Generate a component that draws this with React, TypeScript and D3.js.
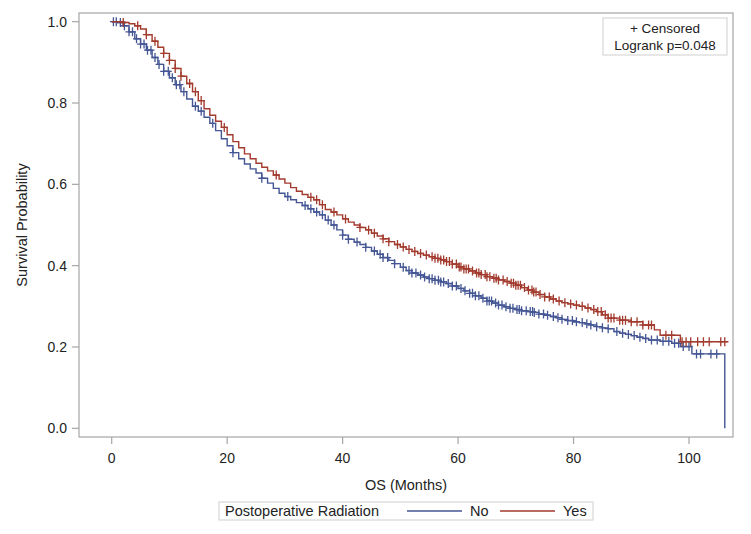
import React from "react";
import * as d3 from "d3";

const noTimes = [0, 1, 2, 3, 4, 5, 6, 7, 8, 9, 10, 11, 12, 13, 14, 15, 16, 17, 18, 19, 20, 21, 22, 23, 24, 25, 26, 27, 28, 29, 30, 31, 32, 33, 34, 35, 36, 37, 38, 39, 40, 41, 42, 43, 44, 45, 46, 47, 48, 49, 50, 51, 52, 53, 54, 55, 56, 57, 58, 59, 60, 61, 62, 63, 64, 65, 66, 67, 68, 69, 70, 71, 72, 73, 74, 75, 76, 77, 78, 79, 80, 81, 82, 83, 84, 85, 86, 87, 88, 89, 90, 91, 92, 93, 95, 97, 98.5, 100.5, 106.2];
const noSurv = [1.0, 0.998, 0.99, 0.975, 0.958, 0.945, 0.93, 0.912, 0.895, 0.878, 0.862, 0.845, 0.828, 0.81, 0.792, 0.78, 0.765, 0.75, 0.732, 0.712, 0.695, 0.678, 0.663, 0.65, 0.638, 0.628, 0.615, 0.603, 0.59, 0.578, 0.57, 0.562, 0.555, 0.548, 0.54, 0.532, 0.525, 0.512, 0.5, 0.488, 0.475, 0.465, 0.458, 0.452, 0.445, 0.436, 0.428, 0.42, 0.413, 0.405, 0.396, 0.388, 0.382, 0.377, 0.372, 0.368, 0.364, 0.36, 0.356, 0.35, 0.344, 0.338, 0.332, 0.326, 0.32, 0.313, 0.308, 0.303, 0.299, 0.295, 0.292, 0.289, 0.287, 0.285, 0.281, 0.278, 0.275, 0.272, 0.268, 0.265, 0.262, 0.26, 0.257, 0.254, 0.25, 0.247, 0.245, 0.238, 0.234, 0.231, 0.228, 0.224, 0.221, 0.217, 0.214, 0.209, 0.201, 0.183, 0.0];
const noEnd = 106.2;
const noCensored = [0.3, 0.8, 1.5, 2.2, 3.0, 3.6, 4.3, 5.0, 5.6, 6.2, 6.8, 7.5, 8.2, 9.0, 9.8, 10.5, 11.2, 11.8, 12.5, 14.5, 15.5, 17.5, 21.0, 26.0, 30.5, 33.5, 34.5, 35.5, 36.5, 37.5, 38.5, 40.0, 41.0, 42.5, 44.0, 45.5, 46.5, 47.0, 47.8, 49.0, 50.5, 51.5, 52.0, 52.7, 53.5, 54.2, 55.0, 55.5, 56.0, 56.6, 57.0, 57.5, 58.3, 59.0, 59.7, 60.5, 61.2, 62.0, 62.5, 63.0, 63.6, 64.3, 65.0, 65.4, 65.8, 66.5, 67.0, 67.6, 68.3, 69.0, 69.5, 70.2, 70.6, 71.0, 71.8, 72.5, 72.9, 73.2, 74.0, 74.8, 75.5, 76.5, 77.3, 78.0, 79.0, 79.8, 80.5, 81.5, 82.3, 83.0, 84.0, 85.0, 86.0, 87.5, 88.5, 89.5, 90.5, 91.5, 92.5, 93.5, 94.5, 95.5, 96.5, 97.5, 98.2, 99.0, 100.0, 101.3, 102.0, 103.8, 104.8];

const yesTimes = [0, 2, 3, 4, 5, 6, 7, 8, 9, 10, 11, 12, 13, 14, 15, 16, 17, 18, 19, 20, 21, 22, 23, 24, 25, 26, 27, 28, 29, 30, 31, 32, 33, 34, 35, 36, 37, 38, 39, 40, 41, 42, 43, 44, 45, 46, 47, 48, 49, 50, 51, 52, 53, 54, 55, 56, 57, 58, 59, 60, 61, 62, 63, 64, 65, 66, 67, 68, 69, 70, 71, 72, 73, 74, 75, 76, 77, 78, 79, 80, 81, 82, 83, 84, 85, 86, 88, 90, 92, 94, 95, 98.5];
const yesSurv = [1.0, 0.998, 0.995, 0.99, 0.982, 0.968, 0.952, 0.937, 0.922, 0.905, 0.885, 0.866, 0.848, 0.828, 0.806, 0.786, 0.77, 0.755, 0.74, 0.722, 0.705, 0.69, 0.675, 0.663, 0.652, 0.642, 0.633, 0.623, 0.613, 0.603, 0.592, 0.583, 0.575, 0.568, 0.562, 0.55, 0.538, 0.532, 0.525, 0.515, 0.507, 0.5, 0.494, 0.488, 0.48, 0.473, 0.466, 0.459, 0.452, 0.446, 0.44, 0.435, 0.43, 0.426, 0.422, 0.418, 0.414, 0.41, 0.404, 0.397, 0.392, 0.387, 0.382, 0.378, 0.373, 0.369, 0.365, 0.361, 0.357, 0.352, 0.346, 0.34, 0.335, 0.329, 0.323, 0.318, 0.313, 0.309, 0.306, 0.303, 0.3, 0.296, 0.292, 0.287, 0.279, 0.271, 0.266, 0.262, 0.254, 0.242, 0.229, 0.213];
const yesEnd = 106.8;
const yesCensored = [2.0, 4.5, 6.0, 7.5, 9.0, 10.0, 11.0, 12.0, 13.5, 14.5, 15.5, 19.5, 28.5, 34.5, 35.5, 36.5, 38.5, 40.5, 43.0, 44.5, 45.5, 47.0, 48.0, 49.5, 50.5, 51.5, 52.5, 53.5, 54.5, 55.5, 56.0, 56.5, 57.0, 57.5, 58.0, 58.5, 59.0, 59.7, 60.2, 60.5, 61.0, 61.4, 61.8, 62.5, 63.2, 63.6, 64.0, 64.7, 65.0, 65.5, 66.2, 66.6, 67.0, 67.8, 68.5, 69.2, 69.6, 70.0, 70.4, 70.8, 71.5, 72.2, 72.8, 73.1, 73.5, 74.2, 75.0, 75.8, 76.5, 77.5, 78.5, 79.5, 80.5, 81.5, 82.5, 83.5, 84.2, 84.8, 85.5, 86.0, 86.5, 87.0, 88.0, 88.5, 89.0, 90.0, 91.0, 92.0, 93.0, 93.5, 96.0, 97.0, 98.8, 99.5, 100.3, 101.5, 102.5, 103.5, 105.5, 106.2];

const xTicks = [0, 20, 40, 60, 80, 100];
const yTicks = [0.0, 0.2, 0.4, 0.6, 0.8, 1.0];
const groupLabels = ["No", "Yes"];
const groupColors = ["#445694", "#A23A2E"];

const W = 751, H = 534;
const L = 79, R = 733, T = 13, B = 437;
const FONT = "'Liberation Sans', Arial, sans-serif";

export default function App() {
  const x = d3.scaleLinear().domain([0, 100]).range([111.7, 689]);
  const y = d3.scaleLinear().domain([0, 1]).range([428.3, 21.7]);

  const series = [
    { times: noTimes, surv: noSurv, end: noEnd, cens: noCensored, color: groupColors[0] },
    { times: yesTimes, surv: yesSurv, end: yesEnd, cens: yesCensored, color: groupColors[1] },
  ];

  const stepAt = (times: number[], surv: number[], t: number) => {
    const i = d3.bisectRight(times, t) - 1;
    return surv[Math.max(0, i)];
  };

  const line = d3
    .line<[number, number]>()
    .x((d) => x(d[0]))
    .y((d) => y(d[1]))
    .curve(d3.curveStepAfter);

  return (
    <svg width={W} height={H} style={{ position: "absolute", left: 0, top: 0, background: "#fff" }} fontFamily={FONT}>
      <rect x={0} y={0} width={W} height={H} fill="#fff" />
      <rect x={L} y={T} width={R - L} height={B - T} fill="none" stroke="#a6a6a6" strokeWidth={1.2} />
      {yTicks.map((v) => (
        <g key={"y" + v}>
          <line x1={L - 7} x2={L} y1={y(v)} y2={y(v)} stroke="#a6a6a6" strokeWidth={1.2} />
          <text x={L - 12} y={y(v)} dy="0.35em" textAnchor="end" fontSize={14} fill="#222">
            {v.toFixed(1)}
          </text>
        </g>
      ))}
      {xTicks.map((v) => (
        <g key={"x" + v}>
          <line x1={x(v)} x2={x(v)} y1={B} y2={B + 7} stroke="#a6a6a6" strokeWidth={1.2} />
          <text x={x(v)} y={463} textAnchor="middle" fontSize={14} fill="#222">
            {v}
          </text>
        </g>
      ))}
      <text x={(L + R) / 2} y={490} textAnchor="middle" fontSize={14.5} fill="#222">
        OS (Months)
      </text>
      <text transform={`translate(27,225) rotate(-90)`} textAnchor="middle" fontSize={14.5} fill="#222">
        Survival Probability
      </text>

      {series.map((s, k) => {
        const pts: [number, number][] = s.times.map((t, i) => [t, s.surv[i]] as [number, number]);
        const last = pts[pts.length - 1];
        if (last[0] < s.end) pts.push([s.end, last[1]]);
        return (
          <g key={"s" + k}>
            <path d={line(pts) || ""} fill="none" stroke={s.color} strokeWidth={1.4} />
            {s.cens.map((t, j) => {
              const cx = x(t);
              const cy = y(stepAt(s.times, s.surv, t));
              return (
                <path
                  key={j}
                  d={`M${cx - 3.5},${cy}H${cx + 3.5}M${cx},${cy - 4.5}V${cy + 4.5}`}
                  stroke={s.color}
                  strokeWidth={1.3}
                  fill="none"
                />
              );
            })}
          </g>
        );
      })}

      <rect x={603} y={18} width={124} height={37} fill="#fff" stroke="#cfcfcf" strokeWidth={1} />
      <text x={665} y={33} textAnchor="middle" fontSize={13.5} fill="#222">
        + Censored
      </text>
      <text x={665} y={50} textAnchor="middle" fontSize={13.5} fill="#222">
        Logrank p=0.048
      </text>

      <rect x={219} y={502} width={374} height={18} fill="#fff" stroke="#cfcfcf" strokeWidth={1} />
      <text x={225} y={516} fontSize={14.5} fill="#222">
        Postoperative Radiation
      </text>
      <line x1={407} x2={462} y1={511} y2={511} stroke={groupColors[0]} strokeWidth={1.4} />
      <text x={470} y={516} fontSize={14.5} fill="#222">
        {groupLabels[0]}
      </text>
      <line x1={500} x2={555} y1={511} y2={511} stroke={groupColors[1]} strokeWidth={1.4} />
      <text x={563} y={516} fontSize={14.5} fill="#222">
        {groupLabels[1]}
      </text>
    </svg>
  );
}
